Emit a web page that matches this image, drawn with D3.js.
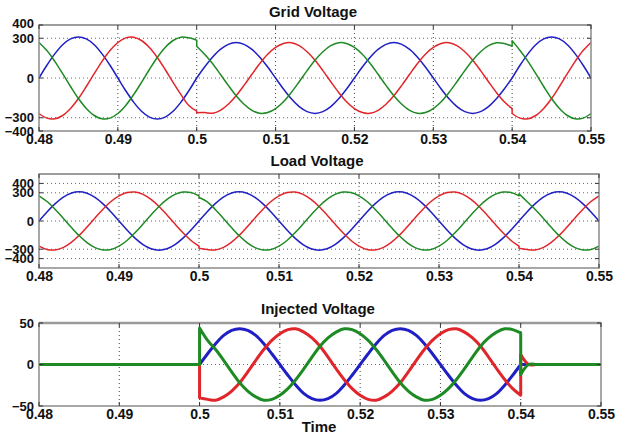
<!DOCTYPE html>
<html><head><meta charset="utf-8">
<script src="https://cdn.jsdelivr.net/npm/d3@7/dist/d3.min.js"></script>
<style>body{margin:0;background:#fff}svg{display:block}</style>
</head><body><svg id="c" width="617" height="436"></svg>
<script>
// sample times (s); 0.500 and 0.540 appear twice: value just before / just after the switching instant
const time = [0.480,0.481,0.482,0.483,0.484,0.485,0.486,0.487,0.488,0.489,0.490,0.491,0.492,0.493,0.494,0.495,0.496,0.497,0.498,0.499,0.500,
  0.500,0.501,0.502,0.503,0.504,0.505,0.506,0.507,0.508,0.509,0.510,0.511,0.512,0.513,0.514,0.515,0.516,0.517,0.518,0.519,0.520,
  0.521,0.522,0.523,0.524,0.525,0.526,0.527,0.528,0.529,0.530,0.531,0.532,0.533,0.534,0.535,0.536,0.537,0.538,0.539,0.540,
  0.540,0.541,0.542,0.543,0.544,0.545,0.546,0.547,0.548,0.549,0.550];

const xTicks = [0.48,0.49,0.50,0.51,0.52,0.53,0.54,0.55];
const xTickLabels = ["0.48","0.49","0.5","0.51","0.52","0.53","0.54","0.55"];

// Grid voltage
const gridBlue = [0,96,182,251,295,310,295,251,182,96,0,-96,-182,-251,-295,-310,-295,-251,-182,-96,0,
  0,83,157,216,254,267,254,216,157,83,0,-83,-157,-216,-254,-267,-254,-216,-157,-83,0,83,157,216,254,267,254,216,157,83,0,-83,-157,-216,-254,-267,-254,-216,-157,-83,0,
  0,96,182,251,295,310,295,251,182,96,0];
const gridRed = [-268,-303,-308,-283,-230,-155,-64,33,126,207,268,303,308,283,230,155,64,-33,-126,-207,-250,
  -262,-261,-266,-244,-198,-134,-56,28,109,179,231,261,266,244,198,134,56,-28,-109,-179,-231,-261,-266,-244,-198,-134,-56,28,109,179,231,261,266,244,198,134,56,-28,-109,-179,-231,
  -268,-303,-308,-283,-230,-155,-64,33,126,207,268];
const gridGreen = [268,207,126,33,-64,-155,-230,-283,-308,-303,-268,-207,-126,-33,64,155,230,283,308,303,285,
  240,179,109,28,-56,-134,-198,-244,-266,-261,-231,-179,-109,-28,56,134,198,244,266,261,231,179,109,28,-56,-134,-198,-244,-266,-261,-231,-179,-109,-28,56,134,198,244,266,261,240,
  282,207,126,33,-64,-155,-230,-283,-308,-303,-268];
const gridTicks = [-400,-300,0,300,400];

// Load voltage
const loadBlue = [0,96,182,251,295,310,295,251,182,96,0,-96,-182,-251,-295,-310,-295,-251,-182,-96,0,
  0,96,182,251,295,310,295,251,182,96,0,-96,-182,-251,-295,-310,-295,-251,-182,-96,0,96,182,251,295,310,295,251,182,96,0,-96,-182,-251,-295,-310,-295,-251,-182,-96,0,
  0,96,182,251,295,310,295,251,182,96,0];
const loadRed = [-268,-303,-308,-283,-230,-155,-64,33,126,207,268,303,308,283,230,155,64,-33,-126,-207,-268,
  -290,-303,-308,-283,-230,-155,-64,33,126,207,268,303,308,283,230,155,64,-33,-126,-207,-268,-303,-308,-283,-230,-155,-64,33,126,207,268,303,308,283,230,155,64,-33,-126,-207,-268,
  -290,-303,-308,-283,-230,-155,-64,33,126,207,268];
const loadGreen = [268,207,126,33,-64,-155,-230,-283,-308,-303,-268,-207,-126,-33,64,155,230,283,308,303,268,
  250,207,126,33,-64,-155,-230,-283,-308,-303,-268,-207,-126,-33,64,155,230,283,308,303,268,207,126,33,-64,-155,-230,-283,-308,-303,-268,-207,-126,-33,64,155,230,283,308,303,268,
  290,207,126,33,-64,-155,-230,-283,-308,-303,-268];
const loadTicks = [-400,-300,0,300,400];

// Injected voltage
const injBlue = [0,0,0,0,0,0,0,0,0,0,0,0,0,0,0,0,0,0,0,0,0,
  0,13,25,35,41,43,41,35,25,13,0,-13,-25,-35,-41,-43,-41,-35,-25,-13,0,13,25,35,41,43,41,35,25,13,0,-13,-25,-35,-41,-43,-41,-35,-25,-13,0,
  0,0,0,0,0,0,0,0,0,0,0];
const injRed = [0,0,0,0,0,0,0,0,0,0,0,0,0,0,0,0,0,0,0,0,0,
  -40,-42,-43,-39,-32,-22,-9,5,18,29,37,42,43,39,32,22,9,-5,-18,-29,-37,-42,-43,-39,-32,-22,-9,5,18,29,37,42,43,39,32,22,9,-5,-18,-29,-37,
  12,0,0,0,0,0,0,0,0,0,0];
const injGreen = [0,0,0,0,0,0,0,0,0,0,0,0,0,0,0,0,0,0,0,0,0,
  44,29,18,5,-9,-22,-32,-39,-43,-42,-37,-29,-18,-5,9,22,32,39,43,42,37,29,18,5,-9,-22,-32,-39,-43,-42,-37,-29,-18,-5,9,22,32,39,43,42,38,
  -12,0,0,0,0,0,0,0,0,0,0];
const injTicks = [-50,0,50];

const colors = {blue:"#1f1fc4", red:"#e0262a", green:"#1e8a24"};

const svg = d3.select("#c");
const FONT = "'Liberation Sans', Arial, sans-serif";

const panels = [
  {title:"Grid Voltage", titleY:17, left:39, right:591, top:25, bottom:131, domain:[-400,400], ticks:gridTicks, hGrid:[-300,0,300],
   series:[gridBlue,gridRed,gridGreen], sw:1.5, topW:1.5},
  {title:"Load Voltage", titleY:166, left:39, right:599, top:174, bottom:268, domain:[-500,500], ticks:loadTicks, hGrid:[-400,-300,0,300,400],
   series:[loadBlue,loadRed,loadGreen], sw:1.5, topW:1.5},
  {title:"Injected Voltage", titleY:314, left:39, right:601, top:323, bottom:406, domain:[-50,50], ticks:injTicks, hGrid:[0],
   series:[injBlue,injRed,injGreen], sw:3, topW:2.5}
];

panels.forEach(p => {
  const x = d3.scaleLinear().domain([0.48,0.55]).range([p.left,p.right]);
  const y = d3.scaleLinear().domain(p.domain).range([p.bottom,p.top]);
  const g = svg.append("g");
  g.append("rect").attr("x",p.left).attr("y",p.top).attr("width",p.right-p.left).attr("height",p.bottom-p.top).attr("fill","#fff");
  // grid
  g.selectAll(".vg").data(xTicks.slice(1,-1)).enter().append("line")
    .attr("x1",d=>x(d)).attr("x2",d=>x(d)).attr("y1",p.top).attr("y2",p.bottom)
    .attr("stroke","#444").attr("stroke-width",1).attr("stroke-dasharray","1,3");
  g.selectAll(".hg").data(p.hGrid).enter().append("line")
    .attr("x1",p.left).attr("x2",p.right).attr("y1",d=>y(d)).attr("y2",d=>y(d))
    .attr("stroke","#666").attr("stroke-width",1).attr("stroke-dasharray","1,3");
  // series
  const line = d3.line().x(d=>x(d[0])).y(d=>y(d[1])).curve(d3.curveCatmullRom.alpha(0.5));
  const cols = [colors.blue, colors.red, colors.green];
  p.series.forEach((vals,si) => {
    const segs = []; let cur = [];
    time.forEach((t,i) => {
      if (i>0 && t===time[i-1]) { segs.push(cur); cur = []; }
      cur.push([t, vals[i]]);
    });
    segs.push(cur);
    const d = segs.map((s,k) => { const str = line(s); return k===0 ? str : "L" + str.slice(1); }).join("");
    g.append("path").attr("d",d).attr("fill","none").attr("stroke",cols[si]).attr("stroke-width",p.sw).attr("stroke-linejoin","round");
  });
  // frame
  g.append("rect").attr("x",p.left).attr("y",p.top).attr("width",p.right-p.left).attr("height",p.bottom-p.top)
    .attr("fill","none").attr("stroke","#8a8a8a").attr("stroke-width",1.5);
  g.append("line").attr("x1",p.left).attr("x2",p.right).attr("y1",p.top).attr("y2",p.top)
    .attr("stroke","#9a9a9a").attr("stroke-width",p.topW);
  // tick marks (inside)
  xTicks.forEach(t => {
    g.append("line").attr("x1",x(t)).attr("x2",x(t)).attr("y1",p.bottom).attr("y2",p.bottom-4).attr("stroke","#333");
    g.append("line").attr("x1",x(t)).attr("x2",x(t)).attr("y1",p.top).attr("y2",p.top+4).attr("stroke","#333");
  });
  p.ticks.forEach(v => {
    g.append("line").attr("x1",p.left).attr("x2",p.left+4).attr("y1",y(v)).attr("y2",y(v)).attr("stroke","#333");
    g.append("line").attr("x1",p.right).attr("x2",p.right-4).attr("y1",y(v)).attr("y2",y(v)).attr("stroke","#333");
  });
  // labels
  const xAxis = d3.axisBottom(x).tickValues(xTicks).tickFormat((d,i)=>xTickLabels[i]).tickSize(0).tickPadding(3);
  const ax = g.append("g").attr("transform",`translate(0,${p.bottom})`).call(xAxis);
  ax.select(".domain").remove();
  ax.selectAll("text").attr("font-family",FONT).attr("font-weight","bold").attr("font-size","14px").attr("fill","#111");
  const yAxis = d3.axisLeft(y).tickValues(p.ticks).tickFormat(d3.format("d")).tickSize(0).tickPadding(5);
  const ay = g.append("g").attr("transform",`translate(${p.left},0)`).call(yAxis);
  ay.select(".domain").remove();
  ay.selectAll("text").attr("font-family",FONT).attr("font-weight","bold").attr("font-size","13px").attr("fill","#111")
    .attr("dy", d => d === p.domain[1] && p.ticks.length > 3 ? "0.2em" : "0.32em");
  svg.append("text").attr("x",(p.left+p.right)/2 - 2).attr("y",p.titleY).attr("text-anchor","middle")
    .attr("font-family",FONT).attr("font-weight","bold").attr("font-size","15px").attr("fill","#111").text(p.title);
});
svg.append("text").attr("x",319).attr("y",432).attr("text-anchor","middle")
  .attr("font-family",FONT).attr("font-weight","bold").attr("font-size","15px").attr("fill","#111").text("Time");
</script></body></html>
